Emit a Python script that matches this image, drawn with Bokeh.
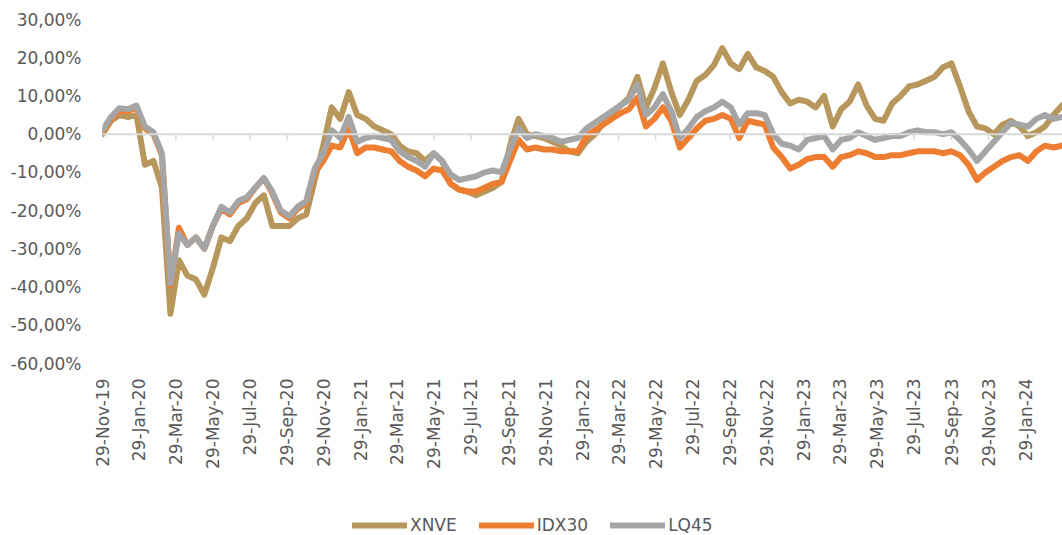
import math
import pandas as pd
from bokeh.plotting import figure
from bokeh.layouts import column
from bokeh.models import Range1d, FixedTicker, DatetimeTickFormatter, Span, Legend, LegendItem
from bokeh.embed import file_html
from bokeh.resources import INLINE

start_date = "2019-11-29"
end_date = "2024-03-30"
sample_step = "14D"

xnve = [0, 3.5, 5, 4.5, 5, -8, -7, -14, -47, -33,
        -37, -38, -42, -35, -27, -28, -24, -22, -18, -16,
        -24, -24, -24, -22, -21, -12, -3, 7, 4, 11,
        5, 4, 2, 1, 0, -3, -4.5, -5, -7, -5,
        -7, -13, -14.5, -15, -16, -15, -14, -12.5, -3, 4,
        0, -0.5, -1, -2, -3, -4.5, -5, -2, 0, 3,
        5.5, 7.5, 9.5, 15, 7, 12, 18.5, 11, 5, 9,
        14, 15.5, 18, 22.5, 18.5, 17, 21, 17.5, 16.5, 15,
        11, 8, 9, 8.5, 7, 10, 2, 6.5, 8.5, 13,
        7.5, 4, 3.5, 8, 10, 12.5, 13, 14, 15, 17.5,
        18.5, 12.5, 6, 2, 1.5, 0, 2.5, 3.5, 2, -0.5,
        0.5, 2, 5, 7.5]

idx30 = [0.5, 4, 6, 6, 7, 1.5, 0, -5.5, -39.5, -24.5,
         -29, -27, -30, -24, -19.5, -21, -18, -17, -14, -11.5,
         -15.5, -20.5, -22, -19.5, -18, -10, -7, -3, -3.5, 1.5,
         -5, -3.5, -3.5, -4, -4.5, -7, -8.5, -9.5, -11, -9,
         -9.5, -13, -14.5, -15, -15, -14, -13, -12.5, -7, -1.5,
         -4, -3.5, -4, -4, -4.5, -4.5, -4.5, -0.5, 1, 2.5,
         4, 5.5, 6.5, 9.5, 2, 4, 7, 3.5, -3.5, -1,
         1.5, 3.5, 4, 5, 4, -1, 3.5, 3, 2.5, -3.5,
         -6, -9, -8, -6.5, -6, -6, -8.5, -6, -5.5, -4.5,
         -5, -6, -6, -5.5, -5.5, -5, -4.5, -4.5, -4.5, -5,
         -4.5, -5.5, -8, -12, -10, -8.5, -7, -6, -5.5, -7,
         -4.5, -3, -3.5, -3]

lq45 = [1, 4.5, 6.8, 6.5, 7.5, 2, 0.5, -5, -39, -26,
        -29, -27, -30, -24, -19, -20.5, -17.5, -16.5, -14, -11.5,
        -15, -20, -21.5, -19, -17.5, -9, -5, 1, -1, 4.5,
        -2, -1, -0.5, -1, -1.5, -4.5, -6, -7, -8.5, -5,
        -7, -10.5, -12, -11.5, -11, -10, -9.5, -10, -4, 1.5,
        -1, 0, -0.5, -1, -2, -1.5, -1, 1.5, 3, 4.5,
        6, 7.5, 9, 13, 5, 7, 10.5, 6, -1, 1.5,
        4.5, 6, 7, 8.5, 7, 2.5, 5.5, 5.5, 5, 0,
        -2.5, -3, -4, -1.5, -1, -0.5, -4, -1.5, -1, 0.5,
        -0.5, -1.5, -1, -0.5, -0.5, 0.5, 1, 0.5, 0.5, 0,
        0.5, -1.5, -4, -7, -4.5, -2, 0.5, 3, 2.5, 2,
        4, 5, 4, 4.5]

series_names = ["XNVE", "IDX30", "LQ45"]
series_colors = ["#B8975C", "#ED7D31", "#A5A5A5"]

x_tick_labels = ["29-Nov-19", "29-Jan-20", "29-Mar-20", "29-May-20", "29-Jul-20", "29-Sep-20",
                 "29-Nov-20", "29-Jan-21", "29-Mar-21", "29-May-21", "29-Jul-21", "29-Sep-21",
                 "29-Nov-21", "29-Jan-22", "29-Mar-22", "29-May-22", "29-Jul-22", "29-Sep-22",
                 "29-Nov-22", "29-Jan-23", "29-Mar-23", "29-May-23", "29-Jul-23", "29-Sep-23",
                 "29-Nov-23", "29-Jan-24"]
y_ticks = [-60, -50, -40, -30, -20, -10, 0, 10, 20, 30]
y_tick_labels = ["-60,00%", "-50,00%", "-40,00%", "-30,00%", "-20,00%", "-10,00%",
                 "0,00%", "10,00%", "20,00%", "30,00%"]

# ---------------- build ----------------
dates = pd.date_range(start_date, periods=len(xnve), freq=sample_step)
tick_dates = pd.to_datetime(x_tick_labels, format="%d-%b-%y")
epoch = pd.Timestamp("1970-01-01")
tick_ms = [float((d - epoch) / pd.Timedelta(milliseconds=1)) for d in tick_dates]
all_series = [xnve, idx30, lq45]

FONT = "DejaVu Sans"
TXT = "#595959"
FS = "17px"

p = figure(width=1062, height=490, x_axis_type="datetime",
           x_range=Range1d(pd.Timestamp(start_date), pd.Timestamp(end_date)),
           y_range=Range1d(-60, 30),
           output_backend="svg", toolbar_location=None,
           min_border_left=102, min_border_right=0, min_border_top=19, min_border_bottom=127)
p.outline_line_color = None
p.xgrid.visible = False
p.ygrid.visible = False
p.background_fill_color = "white"

# zero line with small tick marks
p.add_layout(Span(location=0, dimension="width", line_color="#D9D9D9", line_width=2))
p.segment(x0=list(tick_dates), y0=[0] * len(tick_dates), x1=list(tick_dates),
          y1=[-1.6] * len(tick_dates), line_color="#D9D9D9", line_width=1.5)

for name, vals, col in zip(series_names, all_series, series_colors):
    p.line(dates, vals, line_color=col, line_width=6, line_join="round", line_cap="round")

# axes
xa = p.xaxis[0]
xa.ticker = FixedTicker(ticks=tick_ms)
fmt = "%d-%b-%y"
xa.formatter = DatetimeTickFormatter(milliseconds=fmt, seconds=fmt, minsec=fmt, minutes=fmt,
                                     hourmin=fmt, hours=fmt, days=fmt, months=fmt, years=fmt)
xa.major_label_orientation = math.pi / 2
xa.axis_line_color = None
xa.major_tick_line_color = None
xa.minor_tick_line_color = None
xa.major_tick_out = 0
xa.major_label_standoff = 15
xa.major_label_text_font = FONT
xa.major_label_text_font_size = FS
xa.major_label_text_color = TXT

ya = p.yaxis[0]
ya.ticker = FixedTicker(ticks=y_ticks)
ya.major_label_overrides = {t: l for t, l in zip(y_ticks, y_tick_labels)}
ya.axis_line_color = None
ya.major_tick_line_color = None
ya.minor_tick_line_color = None
ya.major_tick_out = 0
ya.major_label_standoff = 21
ya.major_label_text_font = FONT
ya.major_label_text_font_size = FS
ya.major_label_text_color = TXT

# legend strip below the chart (the series are drawn again here, outside the visible range,
# only so that the legend has real line glyphs to show)
pl = figure(width=1062, height=45, x_axis_type="datetime",
            x_range=Range1d(0, 1), y_range=Range1d(1000, 1001),
            output_backend="svg", toolbar_location=None,
            x_axis_location=None, y_axis_location=None,
            min_border_left=0, min_border_right=0, min_border_top=0, min_border_bottom=0)
pl.outline_line_color = None
pl.xgrid.visible = False
pl.ygrid.visible = False
leg_renderers = [pl.line(dates, vals, line_color=c, line_width=6, line_cap="round")
                 for vals, c in zip(all_series, series_colors)]
legend = Legend(items=[LegendItem(label=n, renderers=[r]) for n, r in zip(series_names, leg_renderers)],
                orientation="horizontal", location=(250, 0))
legend.glyph_width = 55
legend.glyph_height = 16
legend.label_standoff = 3
legend.spacing = 22
legend.padding = 2
legend.margin = 0
legend.border_line_color = None
legend.background_fill_alpha = 0
legend.label_text_font = FONT
legend.label_text_font_size = "17px"
legend.label_text_color = TXT
pl.add_layout(legend)

layout = column(p, pl, spacing=0)
open("out.html", "w").write(file_html(layout, INLINE))
